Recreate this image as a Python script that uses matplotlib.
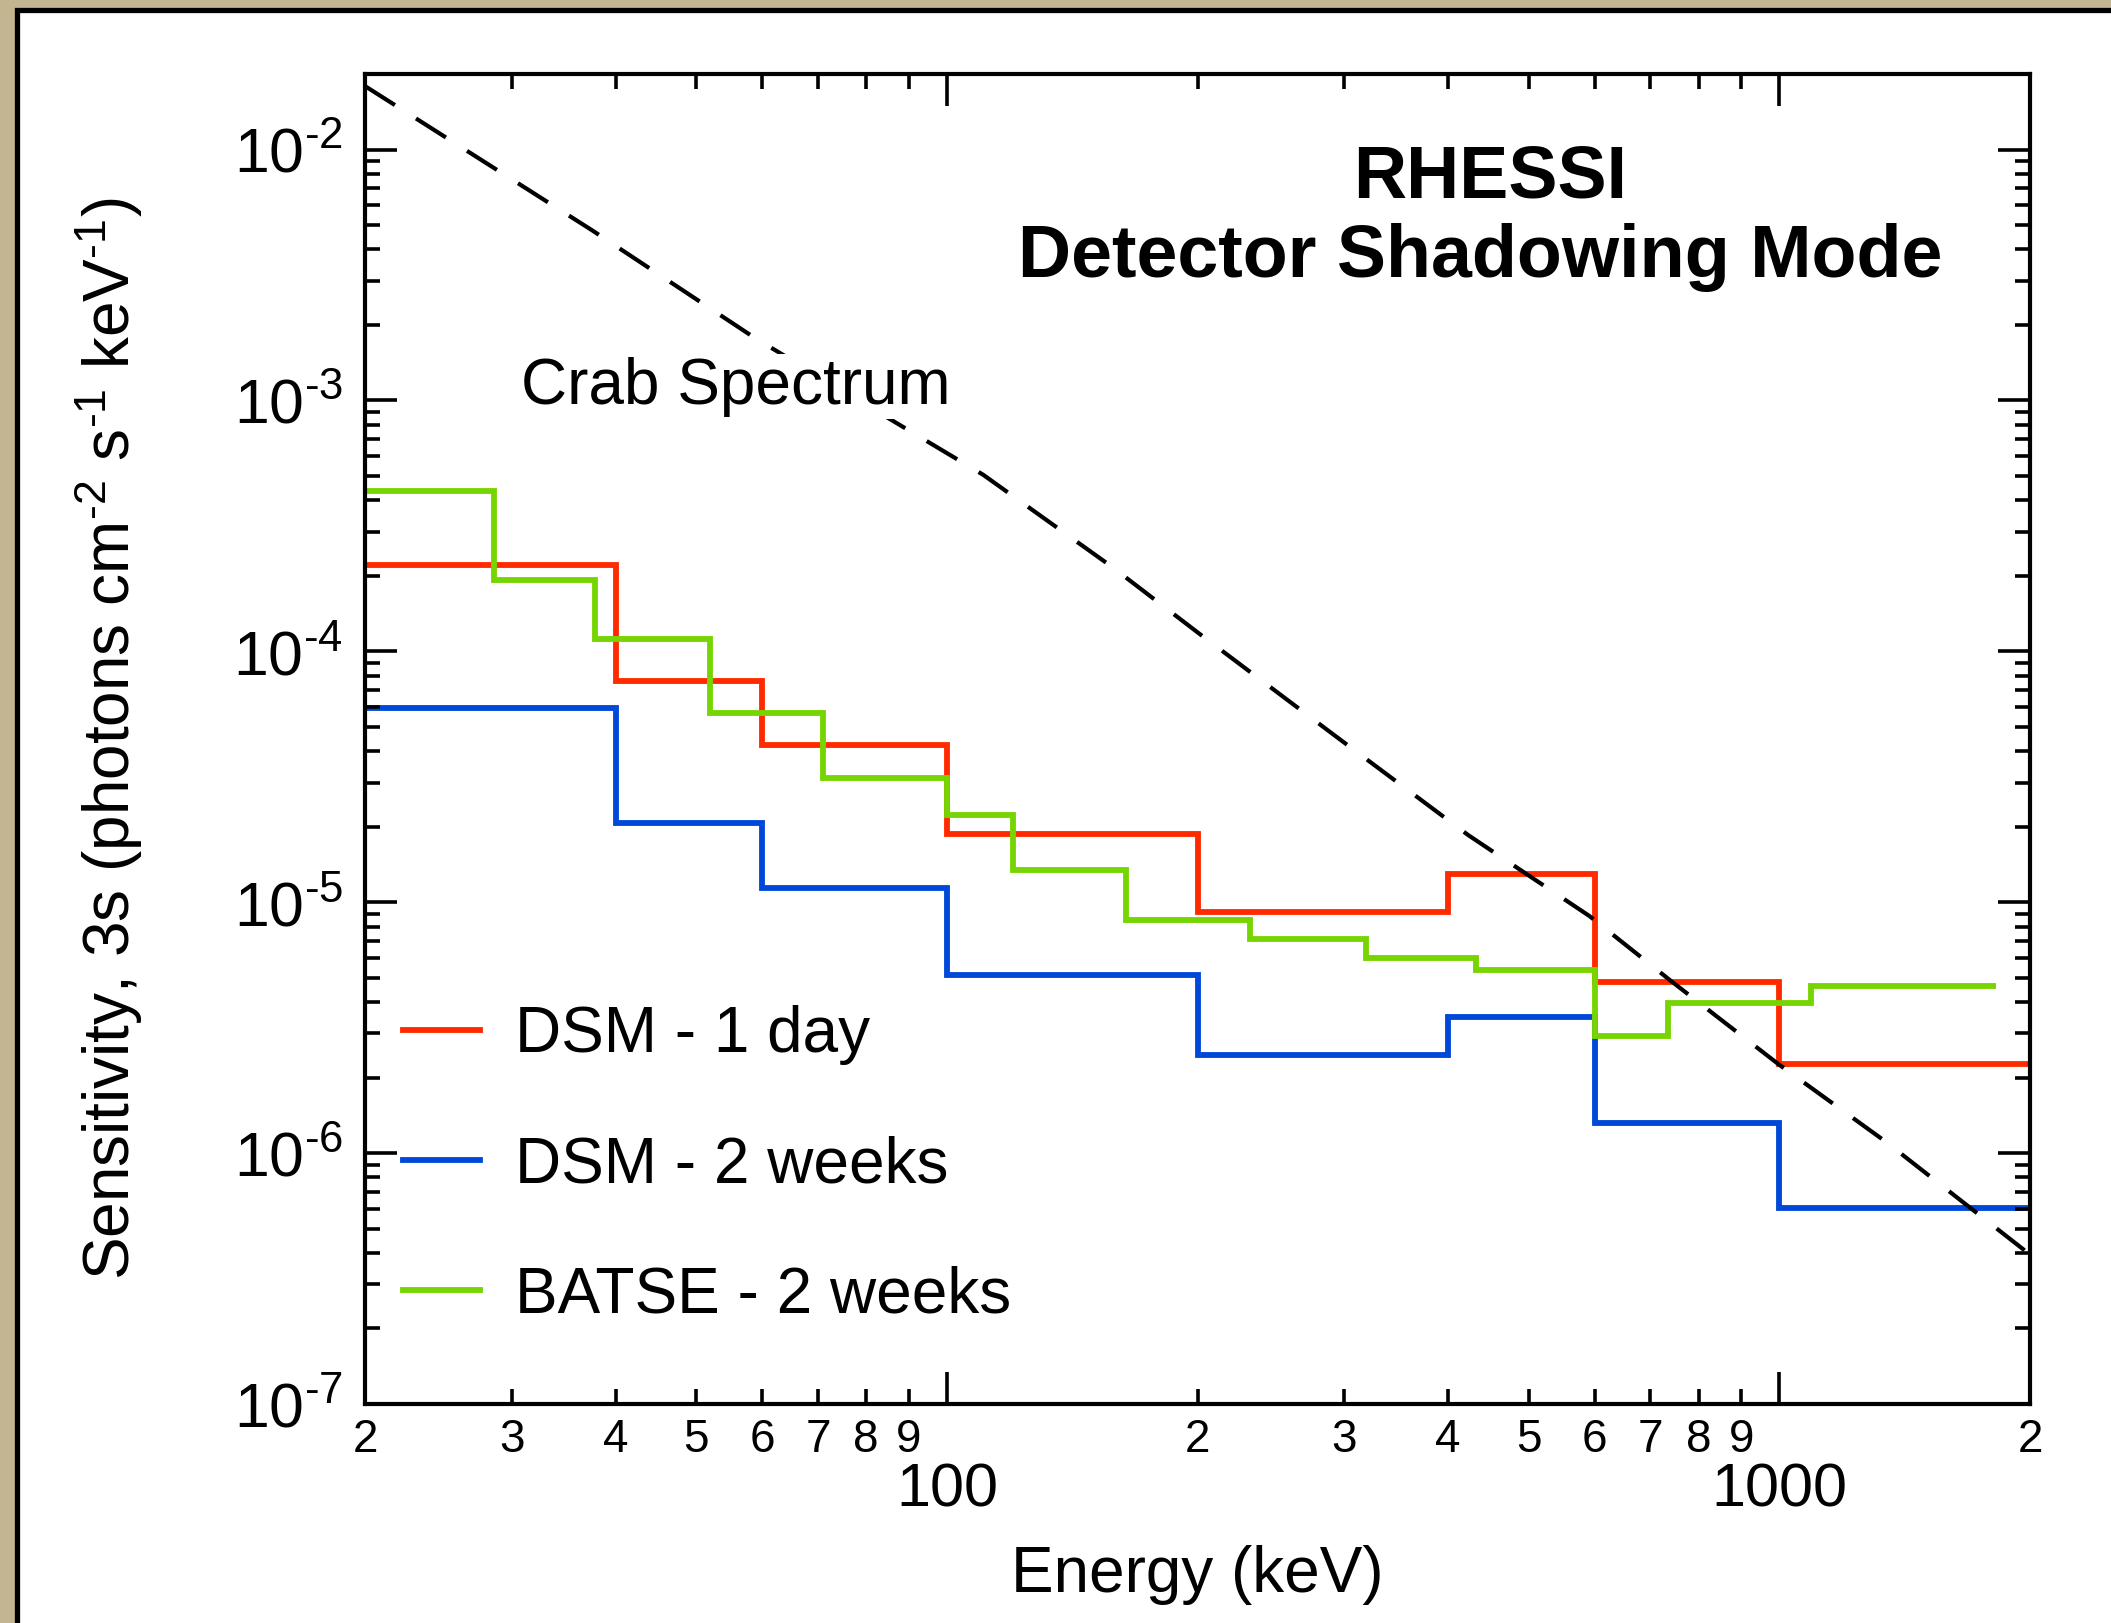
import matplotlib
matplotlib.use("Agg")
import matplotlib.pyplot as plt
from matplotlib.patches import Rectangle
from matplotlib.ticker import FixedLocator, FixedFormatter, NullFormatter

plt.rcParams['font.family'] = ['Liberation Sans', 'DejaVu Sans']
plt.rcParams['mathtext.fontset'] = 'custom'
plt.rcParams['mathtext.rm'] = 'Liberation Sans'
plt.rcParams['mathtext.it'] = 'Liberation Sans:italic'
plt.rcParams['mathtext.bf'] = 'Liberation Sans:bold'

# step spectra: bin edges (keV) and sensitivity per bin
dsm_day_edges = [20, 40, 60, 100, 200, 400, 600, 1000, 2000]
dsm_day_vals = [2.21e-4, 7.64e-5, 4.23e-5, 1.87e-5, 9.14e-6, 1.29e-5, 4.82e-6, 2.27e-6]

dsm_2wk_edges = [20, 40, 60, 100, 200, 400, 600, 1000, 2000]
dsm_2wk_vals = [5.97e-5, 2.07e-5, 1.14e-5, 5.13e-6, 2.47e-6, 3.49e-6, 1.32e-6, 6.05e-7]

batse_edges = [20, 28.6, 37.8, 52, 71, 100, 120, 164, 231, 319, 432, 600, 735, 1090, 1822]
batse_vals = [4.36e-4, 1.93e-4, 1.12e-4, 5.69e-5, 3.14e-5, 2.22e-5, 1.34e-5,
              8.49e-6, 7.14e-6, 6.01e-6, 5.38e-6, 2.94e-6, 3.95e-6, 4.65e-6]

# Crab spectrum
crab_e = [20, 37.5, 58.7, 85.2, 110.6, 157.6, 200.7, 291, 423, 591, 740, 996, 1342, 2000]
crab_s = [1.79e-2, 4.76e-3, 1.78e-3, 8.47e-4, 5.05e-4, 2.18e-4, 1.18e-4,
          4.67e-5, 1.85e-5, 8.82e-6, 4.87e-6, 2.27e-6, 1.11e-6, 3.94e-7]

x_minor = [20, 30, 40, 50, 60, 70, 80, 90, 200, 300, 400, 500, 600, 700, 800, 900, 2000]
x_minor_labels = ['2', '3', '4', '5', '6', '7', '8', '9', '2', '3', '4', '5', '6', '7', '8', '9', '2']
x_major = [100, 1000]
y_major = [1e-7, 1e-6, 1e-5, 1e-4, 1e-3, 1e-2]
y_major_labels = [r'$\mathregular{10^{\text{-}%d}}$' % k for k in (7, 6, 5, 4, 3, 2)]
y_minor = [m * 10.0 ** k for k in range(-7, -1) for m in range(2, 10)]

W, H = 2111, 1623
fig = plt.figure(figsize=(W / 100, H / 100), dpi=100)
fig.patch.set_facecolor('#c2b590')
fig.add_artist(Rectangle((17 / W, -0.1), 1.2, 1.1 - 10 / H,
                         transform=fig.transFigure, facecolor='white',
                         edgecolor='black', linewidth=3.8, zorder=0))

ax = fig.add_axes([365 / W, 1 - 1404 / H, (2030 - 365) / W, (1404 - 74) / H])
ax.set_xscale('log')
ax.set_yscale('log')
ax.set_xlim(20, 2000)
ax.set_ylim(1e-7, 2e-2)

lw = 4.2
ax.stairs(dsm_day_vals, dsm_day_edges, baseline=None, color='#ff2a00', lw=lw, label='DSM - 1 day')
ax.stairs(dsm_2wk_vals, dsm_2wk_edges, baseline=None, color='#0048d8', lw=lw, label='DSM - 2 weeks')
ax.stairs(batse_vals, batse_edges, baseline=None, color='#76d400', lw=lw, label='BATSE - 2 weeks')
ax.plot(crab_e, crab_s, color='black', lw=3.0, linestyle=(0, (8.5, 6)), zorder=1)

for s in ax.spines.values():
    s.set_linewidth(3)

ax.xaxis.set_major_locator(FixedLocator(x_major))
ax.xaxis.set_major_formatter(FixedFormatter(['100', '1000']))
ax.xaxis.set_minor_locator(FixedLocator(x_minor))
ax.xaxis.set_minor_formatter(FixedFormatter(x_minor_labels))
ax.yaxis.set_major_locator(FixedLocator(y_major))
ax.yaxis.set_major_formatter(FixedFormatter(y_major_labels))
ax.yaxis.set_minor_locator(FixedLocator(y_minor))
ax.yaxis.set_minor_formatter(NullFormatter())

ax.tick_params(which='both', direction='in', top=True, right=True, width=2.6)
ax.tick_params(which='major', length=23)
ax.tick_params(which='minor', length=11)
ax.tick_params(axis='x', which='minor', labelsize=33, pad=10)
ax.tick_params(axis='x', which='major', labelsize=44, pad=42)
ax.tick_params(axis='y', which='major', labelsize=45, pad=16)

ax.set_xlabel('Energy (keV)', fontsize=46)
ax.xaxis.set_label_coords(0.5, -0.106)
ax.set_ylabel(r'Sensitivity, 3s (photons cm$^{\mathregular{\text{-}2}}$ s$^{\mathregular{\text{-}1}}$ '
              r'keV$^{\mathregular{\text{-}1}}$)', fontsize=46)
ax.yaxis.set_label_coords(-0.132, 0.5)

ax.text(0.676, 0.921, 'RHESSI', transform=ax.transAxes, ha='center', va='center',
        fontsize=53, fontweight='bold')
ax.text(0.670, 0.862, 'Detector Shadowing Mode', transform=ax.transAxes, ha='center',
        va='center', fontsize=53, fontweight='bold')
ax.text(0.0937, 0.765, 'Crab Spectrum', transform=ax.transAxes, ha='left', va='center',
        fontsize=46, zorder=3,
        bbox=dict(facecolor='white', edgecolor='none', pad=2))

ax.legend(loc='upper left', bbox_to_anchor=(0.023, 0.30), frameon=False, fontsize=46,
          handlelength=1.2, handletextpad=0.55, labelspacing=1.1, borderpad=0,
          borderaxespad=0)

fig.savefig('out.png', dpi=100, facecolor=fig.get_facecolor())
